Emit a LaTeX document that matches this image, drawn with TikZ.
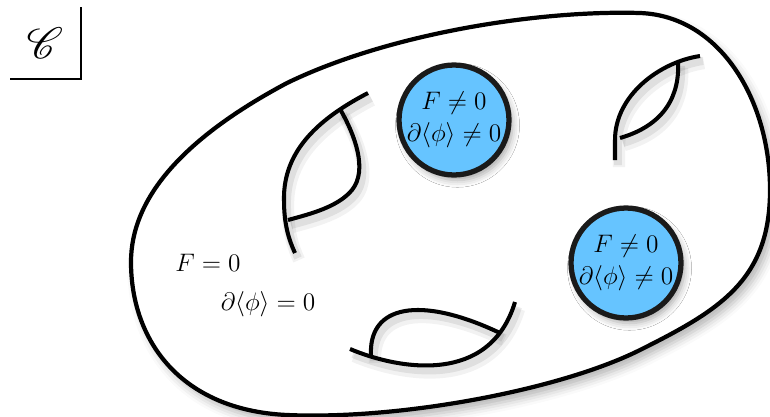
\documentclass[tikz,border=0pt]{standalone}
\usepackage{mathrsfs}
\usepackage{xcolor}
\definecolor{cRegion}{HTML}{66C4FF}
\definecolor{cEdge}{HTML}{1A1A1A}
\usepackage{tikz}
\usetikzlibrary{positioning,shadows.blur}
\tikzset{
  node-region/.style={draw=cEdge,line width=3pt,circle,fill=cRegion,
    minimum size=2.2cm,inner sep=0pt,align=center,
    font=\fontsize{14}{18}\selectfont,
    blur shadow={shadow xshift=2pt,shadow yshift=-3pt,shadow blur radius=4pt,shadow opacity=35}},
  node-label/.style={font=\fontsize{14}{18}\selectfont,inner sep=0pt},
  surface/.style={draw=black,line width=2.4pt,fill=white,
    blur shadow={shadow xshift=3pt,shadow yshift=-4pt,shadow blur radius=5pt,shadow opacity=30}},
  corner-line/.style={draw=black,line width=0.9pt},
}

\begin{document}
\begin{tikzpicture}[x=0.02cm,y=-0.02cm]
  \useasboundingbox (0,0) rectangle (770,416);
  % category corner
  \node[font=\fontsize{26}{28}\selectfont] (cat) at (45,43) {$\mathscr{C}$};
  \coordinate (corner-l) at (10,79);
  \coordinate (corner-t) at (81,7);
  \draw[corner-line] (corner-l) -| (corner-t);
  % the surface
  \path[surface] (131,262) .. controls (131,200) and (180,140) .. (287,83)
    .. controls (390,33) and (540,10) .. (640,13)
    .. controls (720,16) and (770,100) .. (770,190)
    .. controls (770,280) and (720,310) .. (640,350)
    .. controls (560,390) and (400,420) .. (287,415)
    .. controls (180,410) and (131,340) .. cycle;
  % handles, shadow first
  \foreach \lw/\op/\dx/\dy in {7/0.05/4/7, 4.5/0.08/3/5, 2.3/1/0/0} {
    \begin{scope}[shift={(\dx,\dy)},line width=\lw pt,draw opacity=\op]
      \draw (368,93) .. controls (320,118) and (283,150) .. (284,200)
        .. controls (284,225) and (289,240) .. (295,253);
      \draw (340,109) .. controls (355,135) and (368,170) .. (352,190)
        .. controls (338,207) and (310,214) .. (288,220);
      \draw (700,56) .. controls (660,62) and (615,95) .. (615,140) -- (615,160);
      \draw (678,61) .. controls (680,95) and (665,125) .. (620,138);
      \draw (350,349) .. controls (400,370) and (490,385) .. (515,302);
      \draw (371,356) .. controls (368,305) and (420,295) .. (500,333);
    \end{scope}
  }
  % regions
  \node[node-region] (r1) at (454,120) {$F\neq 0$\\$\partial\langle\phi\rangle\neq 0$};
  \node[node-region] (r2) at (626,263) {$F\neq 0$\\$\partial\langle\phi\rangle\neq 0$};
  \node[node-label] (f0) at (208,263) {$F=0$};
  \node[node-label] (d0) at (268,304) {$\partial\langle\phi\rangle=0$};
\end{tikzpicture}
\end{document}
